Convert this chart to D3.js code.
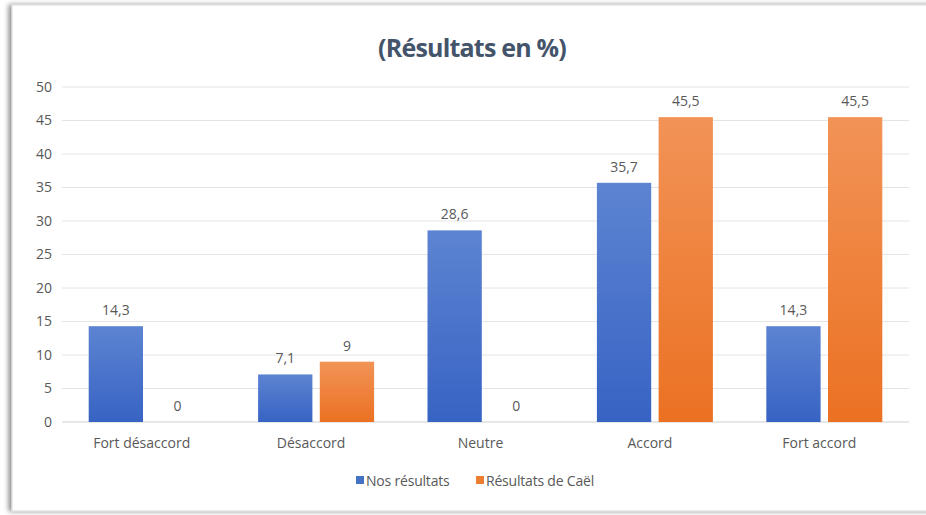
<!DOCTYPE html>
<html><head><meta charset="utf-8">
<script src="https://cdn.jsdelivr.net/npm/d3@7"></script>
<style>
html,body{margin:0;padding:0;background:#fff;}
svg{display:block;font-family:"Open Sans","Noto Sans",sans-serif;}
</style></head>
<body>
<svg id="c" width="926" height="515"></svg>
<script>
const categories = ["Fort désaccord","Désaccord","Neutre","Accord","Fort accord"];
const seriesNames = ["Nos résultats","Résultats de Caël"];
const nosResultats = [14.3, 7.1, 28.6, 35.7, 14.3];
const resultatsCael = [0, 9, 0, 45.5, 45.5];
const yTicks = [0,5,10,15,20,25,30,35,40,45,50];
const title = "(Résultats en %)";

const svg = d3.select("#c");
const defs = svg.append("defs");
const f = defs.append("filter").attr("id","sh").attr("x","-5%").attr("y","-5%").attr("width","110%").attr("height","110%");
f.append("feGaussianBlur").attr("in","SourceAlpha").attr("stdDeviation",2.5);
f.append("feOffset").attr("dx",-3).attr("dy",0).attr("result","b");
f.append("feComponentTransfer").append("feFuncA").attr("type","linear").attr("slope",0.45);
const fm = f.append("feMerge"); fm.append("feMergeNode"); fm.append("feMergeNode").attr("in","SourceGraphic");

svg.append("rect").attr("x",12).attr("y",5).attr("width",930).attr("height",506)
  .attr("fill","#fff").attr("stroke","#d9d9d9").attr("stroke-width",1).attr("filter","url(#sh)");

const gb = defs.append("linearGradient").attr("id","gb").attr("x1",0).attr("y1",0).attr("x2",0).attr("y2",1);
gb.append("stop").attr("offset","0%").attr("stop-color","#5d84d2");
gb.append("stop").attr("offset","100%").attr("stop-color","#3763c3");
const go = defs.append("linearGradient").attr("id","go").attr("x1",0).attr("y1",0).attr("x2",0).attr("y2",1);
go.append("stop").attr("offset","0%").attr("stop-color","#f29357");
go.append("stop").attr("offset","100%").attr("stop-color","#eb7122");

const mLeft = 62, mRight = 909, mTop = 87, mBottom = 422;
const y = d3.scaleLinear().domain([0,50]).range([mBottom, mTop]);
const x = d3.scaleBand().domain(categories).range([mLeft, mRight]);
const x1 = d3.scaleBand().domain(seriesNames).range([x.bandwidth()/2 - 58, x.bandwidth()/2 + 58]).paddingInner(0.12);

svg.append("text").attr("x",472).attr("y",57).attr("text-anchor","middle")
  .attr("font-size",25).attr("font-weight","bold").attr("fill","#44546a")
  .attr("font-family","'Open Sans',sans-serif").attr("letter-spacing","-0.8").text(title);

// grid
svg.append("g").selectAll("line").data(yTicks).join("line")
  .attr("x1",mLeft).attr("x2",mRight).attr("y1",d=>y(d)).attr("y2",d=>y(d))
  .attr("stroke",d=>d===0?"#d0d0d0":"#e4e4e4").attr("stroke-width",1);

// y axis
const ya = svg.append("g").attr("transform",`translate(${mLeft},0)`)
  .call(d3.axisLeft(y).tickValues(yTicks).tickSize(0).tickPadding(10));
ya.select(".domain").remove();
ya.selectAll("text").attr("font-size",14).attr("fill","#595959").attr("font-family","'Open Sans',sans-serif");

// x axis
const xa = svg.append("g").attr("transform",`translate(0,${mBottom})`)
  .call(d3.axisBottom(x).tickSize(0).tickPadding(16));
xa.select(".domain").remove();
xa.selectAll("text").attr("font-size",14).attr("fill","#595959").attr("font-family","'Open Sans',sans-serif").attr("dx",-5);

const data = categories.map((c,i)=>({c, vals:[{s:seriesNames[0],v:nosResultats[i]},{s:seriesNames[1],v:resultatsCael[i]}]}));
const fmt = v => String(v).replace(".",",");
const g = svg.append("g").selectAll("g").data(data).join("g").attr("transform",d=>`translate(${x(d.c)},0)`);
g.selectAll("rect").data(d=>d.vals).join("rect")
  .attr("x",d=>x1(d.s)).attr("width",x1.bandwidth())
  .attr("y",d=>y(d.v)).attr("height",d=>y(0)-y(d.v))
  .attr("fill",d=>d.s===seriesNames[0]?"url(#gb)":"url(#go)");
g.selectAll("text").data(d=>d.vals).join("text")
  .attr("x",d=>x1(d.s)+x1.bandwidth()/2).attr("y",d=>y(d.v)-11)
  .attr("text-anchor","middle").attr("font-size",14).attr("fill","#595959")
  .attr("font-family","'Open Sans',sans-serif").text(d=>fmt(d.v));

// legend
const leg = svg.append("g");
const legX = [356, 476];
const legColors = ["#4472c4","#ed7d31"];
seriesNames.forEach((s,i)=>{
  leg.append("rect").attr("x",legX[i]).attr("y",476).attr("width",8).attr("height",8).attr("fill",legColors[i]);
  leg.append("text").attr("x",legX[i]+10).attr("y",486).attr("font-size",14).attr("fill","#595959")
    .attr("font-family","'Open Sans',sans-serif").attr("letter-spacing","-0.2").text(s);
});
</script>
</body></html>
